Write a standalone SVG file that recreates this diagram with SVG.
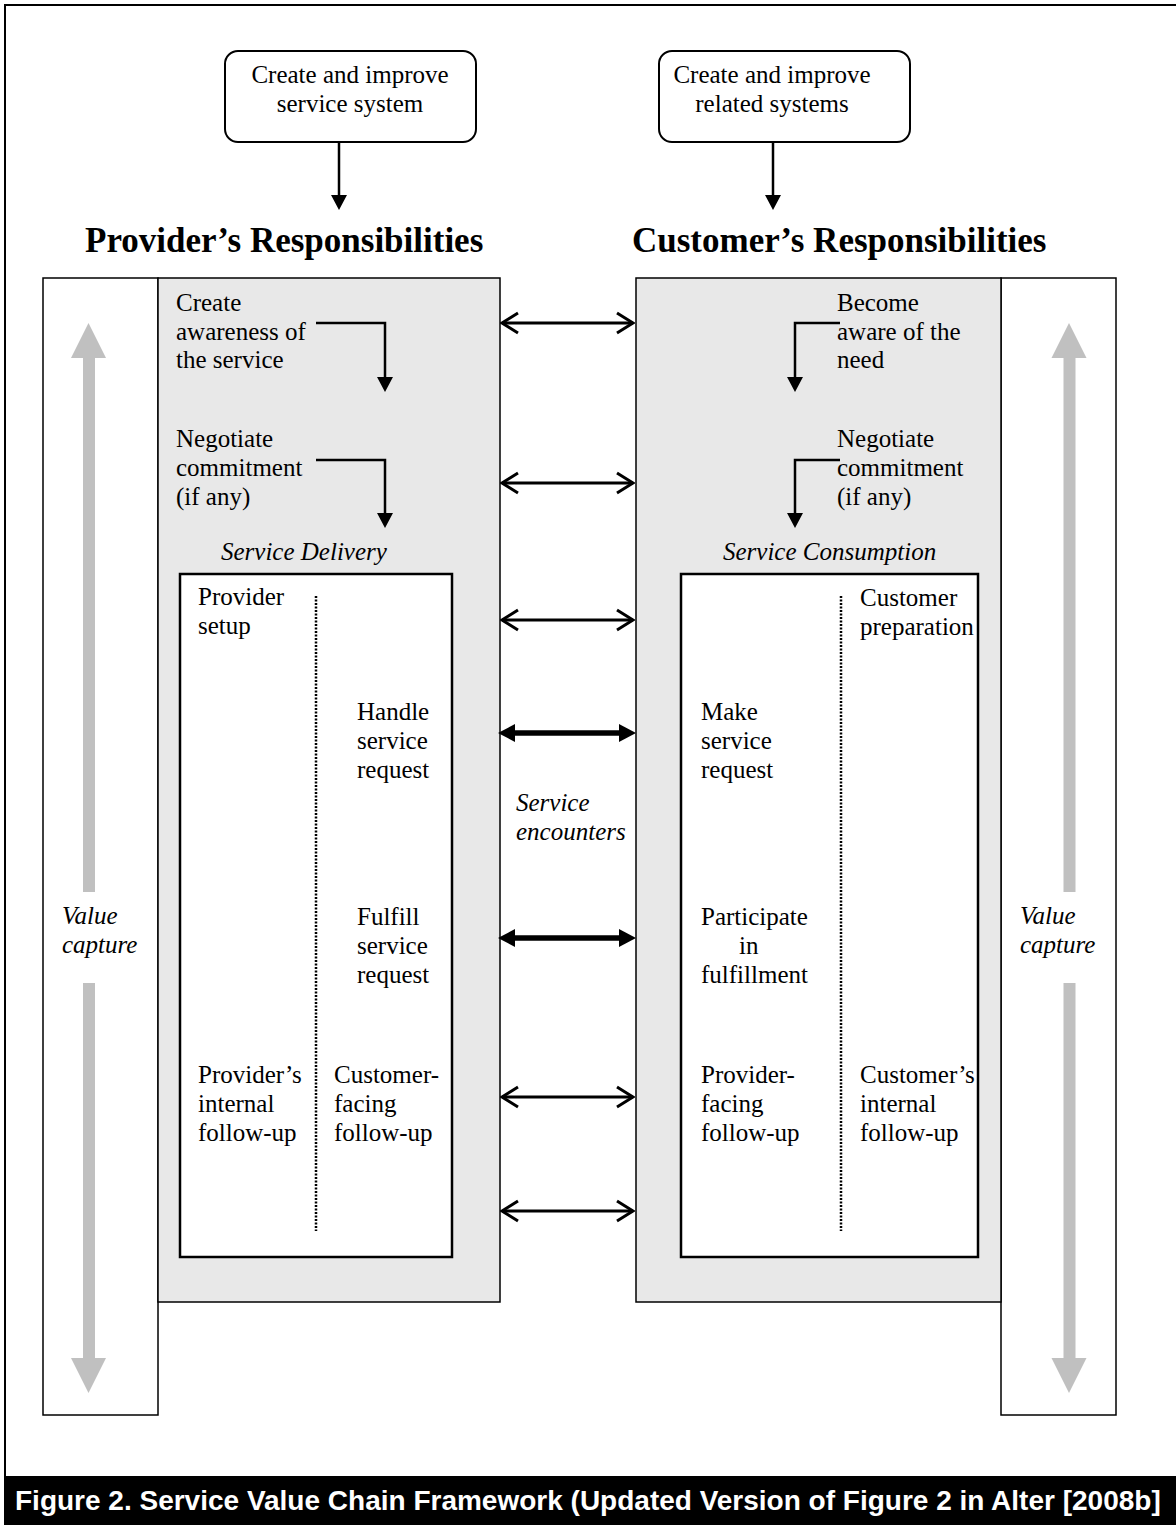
<svg xmlns="http://www.w3.org/2000/svg" width="1176" height="1525" viewBox="0 0 1176 1525">
<defs>
<style>
.t{font-family:"Liberation Serif","Times New Roman",serif;font-size:25px;fill:#000}
.i{font-style:italic}
.h{font-family:"Liberation Serif","Times New Roman",serif;font-size:35px;font-weight:bold;fill:#000}
.cap{font-family:"Liberation Sans",Arial,sans-serif;font-size:28px;font-weight:bold;fill:#fff}
.panel{fill:#e8e8e8;stroke:#000;stroke-width:1.5}
.wbox{fill:#fff;stroke:#000;stroke-width:1.5}
.inner{fill:#fff;stroke:#000;stroke-width:2.5}
.top{fill:#fff;stroke:#000;stroke-width:2}
.dot{stroke:#000;stroke-width:2.5;stroke-dasharray:2 1.5;fill:none}
.conn{fill:none;stroke:#000;stroke-width:2.5}
.open{fill:none;stroke:#000;stroke-width:3}
.bold{fill:none;stroke:#000;stroke-width:5.5}
.gray{fill:#c0c0c0}
</style>
<marker id="tri" markerUnits="userSpaceOnUse" viewBox="0 0 16 16" refX="0" refY="8" markerWidth="16" markerHeight="16" orient="auto"><path d="M0,0 L15,8 L0,16 Z" fill="#000"/></marker>
<marker id="chev" markerUnits="userSpaceOnUse" viewBox="0 0 20 24" refX="18" refY="12" markerWidth="20" markerHeight="24" orient="auto-start-reverse"><path d="M2,2 L18,12 L2,22" fill="none" stroke="#000" stroke-width="3"/></marker>
<marker id="btri" markerUnits="userSpaceOnUse" viewBox="0 0 17 18" refX="0" refY="9" markerWidth="17" markerHeight="18" orient="auto-start-reverse"><path d="M0,0 L17,9 L0,18 Z" fill="#000"/></marker>
</defs>
<rect x="0" y="0" width="1176" height="1525" fill="#fff"/>
<path d="M5,1476 V5 H1176" fill="none" stroke="#000" stroke-width="2"/>

<g id="top-provider">
<rect class="top" x="225" y="51" width="251" height="91" rx="13"/>
<text class="t" x="350" y="83" text-anchor="middle">Create and improve</text>
<text class="t" x="350" y="112" text-anchor="middle">service system</text>
</g>
<g id="top-customer">
<rect class="top" x="659" y="51" width="251" height="91" rx="13"/>
<text class="t" x="772" y="83" text-anchor="middle">Create and improve</text>
<text class="t" x="772" y="112" text-anchor="middle">related systems</text>
</g>

<g id="heading-provider"><text class="h" x="85" y="252">Provider’s Responsibilities</text></g>
<g id="heading-customer"><text class="h" x="632" y="252">Customer’s Responsibilities</text></g>

<g id="value-capture-left">
<rect class="wbox" x="43" y="278" width="115" height="1137"/>
<path class="gray" d="M83,892 V358 H71 L88.5,323 L106,358 H95 V892 Z"/>
<path class="gray" d="M83,983 V1358 H71 L88.5,1393 L106,1358 H95 V983 Z"/>
<text class="t i" x="62" y="924">Value</text>
<text class="t i" x="62" y="953">capture</text>
</g>
<g id="value-capture-right">
<rect class="wbox" x="1001" y="278" width="115" height="1137"/>
<path class="gray" d="M1063.5,892 V358 H1051.5 L1069,323 L1086.5,358 H1075.5 V892 Z"/>
<path class="gray" d="M1063.5,983 V1358 H1051.5 L1069,1393 L1086.5,1358 H1075.5 V983 Z"/>
<text class="t i" x="1020" y="924">Value</text>
<text class="t i" x="1020" y="953">capture</text>
</g>

<g id="provider-panel">
<rect class="panel" x="158" y="278" width="342" height="1024"/>
<text class="t" x="176" y="311">Create</text>
<text class="t" x="176" y="340">awareness of</text>
<text class="t" x="176" y="368">the service</text>
<text class="t" x="176" y="447">Negotiate</text>
<text class="t" x="176" y="476">commitment</text>
<text class="t" x="176" y="505">(if any)</text>
<text class="t i" x="221" y="560">Service Delivery</text>
</g>
<g id="customer-panel">
<rect class="panel" x="636" y="278" width="365" height="1024"/>
<text class="t" x="837" y="311">Become</text>
<text class="t" x="837" y="340">aware of the</text>
<text class="t" x="837" y="368">need</text>
<text class="t" x="837" y="447">Negotiate</text>
<text class="t" x="837" y="476">commitment</text>
<text class="t" x="837" y="505">(if any)</text>
<text class="t i" x="723" y="560">Service Consumption</text>
</g>

<g id="service-delivery">
<rect class="inner" x="180" y="574" width="272" height="683"/>
<line class="dot" x1="316" y1="596" x2="316" y2="1231"/>
<text class="t" x="198" y="605">Provider</text>
<text class="t" x="198" y="634">setup</text>
<text class="t" x="357" y="720">Handle</text>
<text class="t" x="357" y="749">service</text>
<text class="t" x="357" y="778">request</text>
<text class="t" x="357" y="925">Fulfill</text>
<text class="t" x="357" y="954">service</text>
<text class="t" x="357" y="983">request</text>
<text class="t" x="198" y="1083">Provider’s</text>
<text class="t" x="198" y="1112">internal</text>
<text class="t" x="198" y="1141">follow-up</text>
<text class="t" x="334" y="1083">Customer-</text>
<text class="t" x="334" y="1112">facing</text>
<text class="t" x="334" y="1141">follow-up</text>
</g>
<g id="service-consumption">
<rect class="inner" x="681" y="574" width="297" height="683"/>
<line class="dot" x1="841" y1="596" x2="841" y2="1231"/>
<text class="t" x="860" y="606">Customer</text>
<text class="t" x="860" y="635">preparation</text>
<text class="t" x="701" y="720">Make</text>
<text class="t" x="701" y="749">service</text>
<text class="t" x="701" y="778">request</text>
<text class="t" x="701" y="925">Participate</text>
<text class="t" x="739" y="954">in</text>
<text class="t" x="701" y="983">fulfillment</text>
<text class="t" x="701" y="1083">Provider-</text>
<text class="t" x="701" y="1112">facing</text>
<text class="t" x="701" y="1141">follow-up</text>
<text class="t" x="860" y="1083">Customer’s</text>
<text class="t" x="860" y="1112">internal</text>
<text class="t" x="860" y="1141">follow-up</text>
</g>

<g id="service-encounters-label">
<text class="t i" x="516" y="811">Service</text>
<text class="t i" x="516" y="840">encounters</text>
</g>

<g id="connectors">
<line class="conn" x1="339" y1="142" x2="339" y2="195" marker-end="url(#tri)"/>
<line class="conn" x1="773" y1="142" x2="773" y2="195" marker-end="url(#tri)"/>
<path class="conn" d="M316,323 H385 V377" marker-end="url(#tri)"/>
<path class="conn" d="M316,460 H385 V513" marker-end="url(#tri)"/>
<path class="conn" d="M840,323 H795 V377" marker-end="url(#tri)"/>
<path class="conn" d="M840,460 H795 V513" marker-end="url(#tri)"/>
<line class="open" x1="502" y1="323" x2="633" y2="323" marker-start="url(#chev)" marker-end="url(#chev)"/>
<line class="open" x1="502" y1="483" x2="633" y2="483" marker-start="url(#chev)" marker-end="url(#chev)"/>
<line class="open" x1="502" y1="620" x2="633" y2="620" marker-start="url(#chev)" marker-end="url(#chev)"/>
<line class="bold" x1="515" y1="733" x2="619" y2="733" marker-start="url(#btri)" marker-end="url(#btri)"/>
<line class="bold" x1="515" y1="938" x2="619" y2="938" marker-start="url(#btri)" marker-end="url(#btri)"/>
<line class="open" x1="502" y1="1097" x2="633" y2="1097" marker-start="url(#chev)" marker-end="url(#chev)"/>
<line class="open" x1="502" y1="1211" x2="633" y2="1211" marker-start="url(#chev)" marker-end="url(#chev)"/>
</g>

<g id="caption">
<rect x="4" y="1476" width="1172" height="49" fill="#000"/>
<text class="cap" x="15" y="1510">Figure 2. Service Value Chain Framework (Updated Version of Figure 2 in Alter [2008b]</text>
</g>
</svg>
